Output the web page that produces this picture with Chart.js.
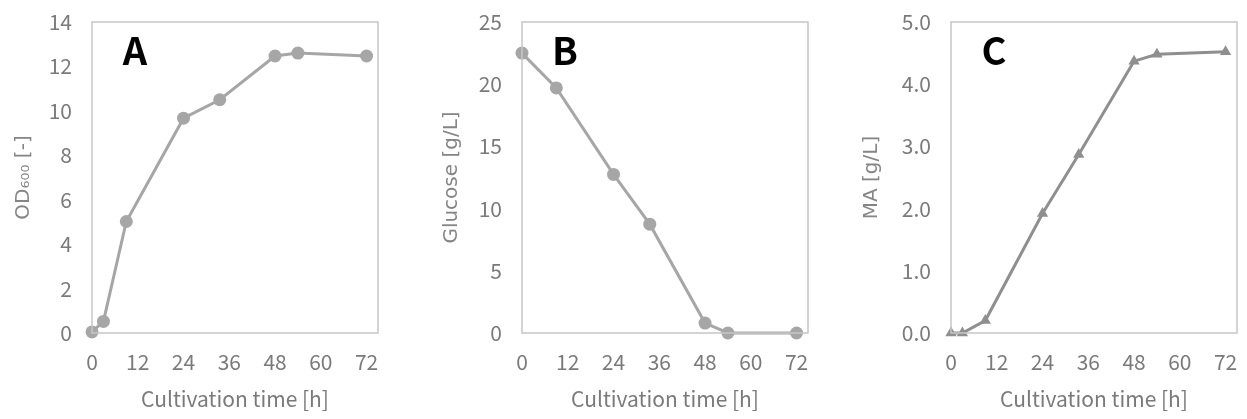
<!DOCTYPE html>
<html lang="en">
<head>
    <title>Cultivation profile</title>
    <script src="https://cdn.jsdelivr.net/npm/chart.js"></script>
    <style>
        body { margin: 0; background: #fff; }
        #wrap { position: relative; width: 1247px; height: 419px; }
        .panel { position: absolute; top: 0; }
    </style>
</head>
<body>

<div id="wrap">
    <canvas id="chartA" class="panel" style="left:0px" width="410" height="419"></canvas>
    <canvas id="chartB" class="panel" style="left:420px" width="410" height="419"></canvas>
    <canvas id="chartC" class="panel" style="left:830px" width="417" height="419"></canvas>
</div>

<script>
// sampling times [h]
const timeOD = [0, 3, 9, 24, 33.5, 48, 54, 72];
const timeGlc = [0, 9, 24, 33.5, 48, 54, 72];
const timeMA = [0, 3, 9, 24, 33.5, 48, 54, 72];

// measured values
const od600 = [0.05, 0.52, 5.02, 9.67, 10.5, 12.47, 12.6, 12.47];
const glucose = [22.5, 19.7, 12.75, 8.75, 0.8, 0, 0];
const maConc = [0, 0, 0.2, 1.92, 2.87, 4.37, 4.48, 4.52];

const xTicks = [0, 12, 24, 36, 48, 60, 72];

const FONT = "'Noto Sans CJK JP', 'Noto Sans', sans-serif";
const TEXT_GREY = '#7a7a7a';

// box round the plot area plus the panel letter
const framePlugin = {
    id: 'frame',
    afterDraw(chart, args, opts) {
        const a = chart.chartArea;
        const ctx = chart.ctx;
        ctx.save();
        ctx.strokeStyle = '#c6c6c6';
        ctx.lineWidth = 1.5;
        ctx.strokeRect(a.left, a.top, a.right - a.left, a.bottom - a.top);
        ctx.fillStyle = '#000';
        ctx.font = 'bold 38px ' + FONT;
        ctx.textAlign = 'center';
        ctx.textBaseline = 'middle';
        ctx.fillText(opts.letter, a.left + 43, a.top + 29);
        ctx.restore();
    }
};

function makePanel(id, cfg) {
    const ctx = document.getElementById(id).getContext('2d');
    return new Chart(ctx, {
        type: 'line',
        data: {
            datasets: [{
                data: cfg.x.map((t, i) => ({ x: t, y: cfg.y[i] })),
                borderColor: cfg.color,
                backgroundColor: cfg.color,
                borderWidth: 3,
                pointStyle: cfg.pointStyle,
                pointRadius: cfg.pointRadius,
                pointBorderWidth: 0,
                clip: false
            }]
        },
        options: {
            responsive: false,
            animation: false,
            devicePixelRatio: 1,
            layout: { padding: { top: 22, right: cfg.padRight, bottom: 0, left: 0 } },
            plugins: {
                legend: { display: false },
                tooltip: { enabled: false },
                frame: { letter: cfg.letter }
            },
            scales: {
                x: {
                    type: 'linear',
                    min: 0,
                    max: 75,
                    afterFit(scale) {
                        scale.height = 86;
                        scale.paddingLeft = 0;
                        scale.paddingRight = 0;
                    },
                    afterBuildTicks(scale) { scale.ticks = xTicks.map(v => ({ value: v })); },
                    grid: { display: false, drawTicks: false },
                    border: { display: false },
                    ticks: { padding: 16, color: TEXT_GREY, font: { family: FONT, size: 21 } },
                    title: {
                        display: true,
                        text: 'Cultivation time [h]',
                        color: TEXT_GREY,
                        font: { family: FONT, size: 21 },
                        padding: { top: 0, bottom: 7 }
                    }
                },
                y: {
                    min: 0,
                    max: cfg.yMax,
                    afterFit(scale) {
                        scale.width = cfg.yWidth;
                        scale.paddingTop = 0;
                        scale.paddingBottom = 0;
                    },
                    grid: { display: false, drawTicks: false },
                    border: { display: false },
                    ticks: {
                        stepSize: cfg.yStep,
                        padding: 20,
                        color: TEXT_GREY,
                        font: { family: FONT, size: 21 },
                        callback: v => v.toFixed(cfg.decimals)
                    },
                    title: {
                        display: true,
                        text: cfg.yTitle,
                        color: '#858585',
                        font: { family: "'DejaVu Sans', sans-serif", size: 20 },
                        padding: { top: cfg.titlePad, bottom: 0 }
                    }
                }
            }
        },
        plugins: [framePlugin]
    });
}

makePanel('chartA', {
    x: timeOD, y: od600, letter: 'A',
    color: '#a6a6a6', pointStyle: 'circle', pointRadius: 6.5,
    yMax: 14, yStep: 2, decimals: 0, yTitle: 'OD₆₀₀ [-]',
    yWidth: 92, padRight: 32, titlePad: 12
});

makePanel('chartB', {
    x: timeGlc, y: glucose, letter: 'B',
    color: '#a6a6a6', pointStyle: 'circle', pointRadius: 6.5,
    yMax: 25, yStep: 5, decimals: 0, yTitle: 'Glucose [g/L]',
    yWidth: 102, padRight: 22, titlePad: 20
});

makePanel('chartC', {
    x: timeMA, y: maConc, letter: 'C',
    color: '#8f8f8f', pointStyle: 'triangle', pointRadius: 6.5,
    yMax: 5, yStep: 1, decimals: 1, yTitle: 'MA [g/L]',
    yWidth: 121, padRight: 10, titlePad: 30
});
</script>

</body>
</html>
